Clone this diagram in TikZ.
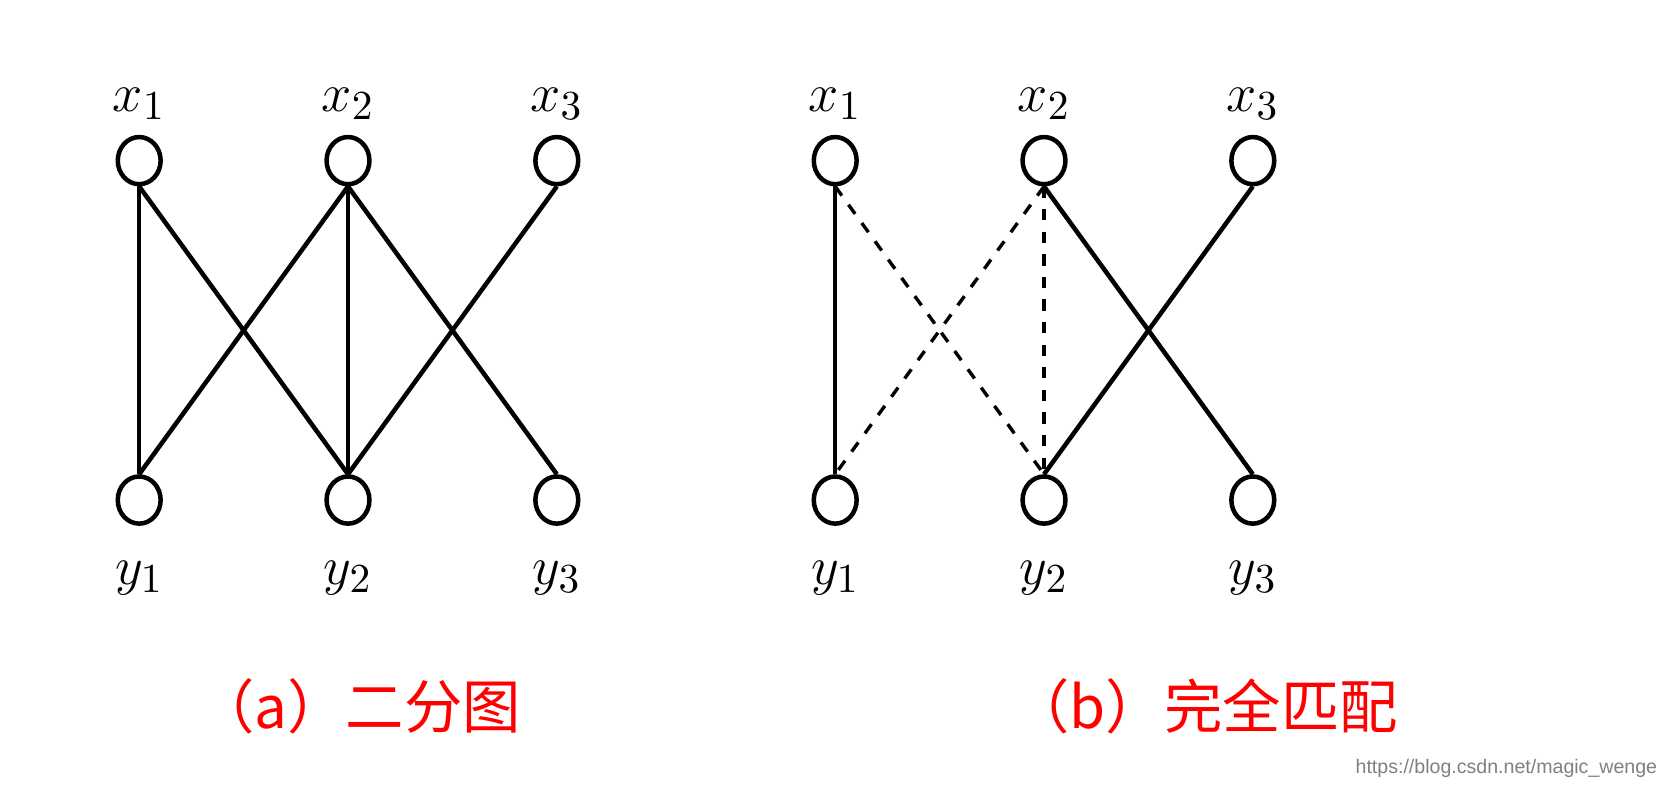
\documentclass[tikz,border=0pt]{standalone}
\usepackage{fontspec}
\newfontfamily\cjk{Noto Sans CJK SC}
\setsansfont{Liberation Sans}
\usetikzlibrary{shapes.geometric}
\tikzset{
    vertex/.style={draw,ellipse,line width=1.2pt,minimum width=0.4cm,minimum height=0.44cm,inner sep=0pt},
    edge/.style={line width=1.2pt},
    lbl/.style={font=\fontsize{15}{17}\selectfont},
    caption/.style={red,font=\cjk\fontsize{15.5}{17}\selectfont}
}
\begin{document}
\begin{tikzpicture}[x=0.01cm,y=-0.01cm]
    \useasboundingbox (0,0) rectangle (1568,733);
    % Vertices
    \foreach \g/\o in {a/0,b/650}{
        \foreach \i/\x in {1/130,2/325,3/520}{
            \node[vertex] (\g x\i) at (\x+\o,150) {};
            \node[vertex] (\g y\i) at (\x+\o,467) {};
            \node[lbl] at (\x+\o,97) {$x_\i$};
            \node[lbl] at (\x+\o,540) {$y_\i$};
        }
    }
    % (a) bipartite graph
    \foreach \s/\t in {1/1,1/2,2/1,2/2,2/3,3/2}
        \draw[edge] (ax\s.south) -- (ay\t.north);
    % (b) matching
    \foreach \s/\t in {1/1,2/3,3/2}
        \draw[edge] (bx\s.south) -- (by\t.north);
    \foreach \s/\t in {1/2,2/1,2/2}
        \draw[edge,line width=0.9pt,dashed] (bx\s.south) -- (by\t.north);
    % Captions
    \node[caption] (capa) at (335,660) {（a）二分图};
    \node[caption] (capb) at (1125,660) {（b）完全匹配};
    \node[gray,font=\sffamily\fontsize{5.2}{6}\selectfont,anchor=east] (mark) at (1560,718) {https://blog.csdn.net/magic\_wenge};
\end{tikzpicture}
\end{document}
